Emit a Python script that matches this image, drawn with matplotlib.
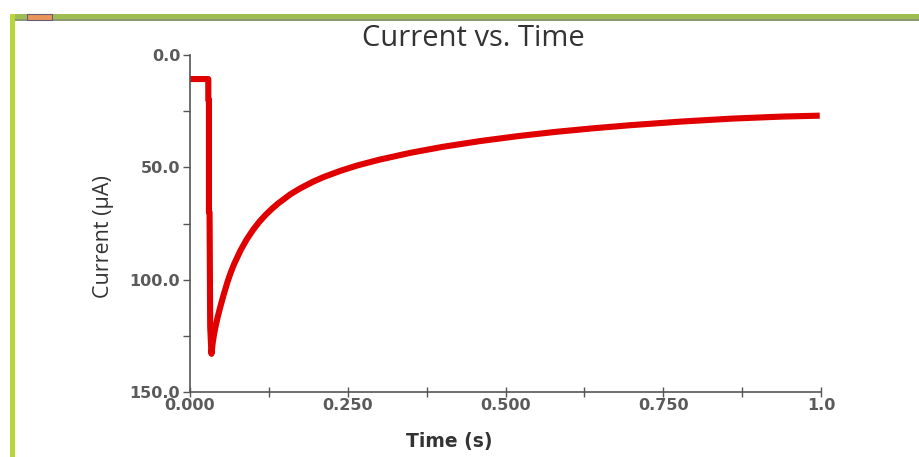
import matplotlib
matplotlib.use("Agg")
import matplotlib.pyplot as plt
import matplotlib.ticker as mticker
from matplotlib.patches import Rectangle

# 读图得到的电流-时间曲线（y 轴向下为正）
time_s = [0.0, 0.029, 0.029, 0.030, 0.030, 0.031, 0.032, 0.034,
          0.036, 0.038, 0.040, 0.044, 0.047, 0.053, 0.060, 0.065,
          0.070, 0.080, 0.090, 0.100, 0.110, 0.120, 0.130, 0.140,
          0.159, 0.175, 0.195, 0.212, 0.240, 0.266, 0.300, 0.350,
          0.400, 0.460, 0.520, 0.580, 0.640, 0.700, 0.780, 0.860,
          0.939, 0.998]
current_ua = [10.7, 10.7, 20.0, 20.0, 70.0, 70.0, 121.0, 133.0,
              128.0, 124.5, 121.5, 116.5, 113.2, 107.0, 100.5, 96.5,
              93.0, 87.0, 82.0, 77.8, 74.2, 71.1, 68.4, 66.0,
              62.0, 59.3, 56.4, 54.3, 51.4, 49.1, 46.6, 43.5,
              40.9, 38.3, 36.1, 34.2, 32.6, 31.2, 29.6, 28.3,
              27.4, 27.0]

x_ticks = [0.0, 0.25, 0.5, 0.75, 1.0]
x_tick_labels = ["0.000", "0.250", "0.500", "0.750", "1.0"]
y_ticks = [0.0, 50.0, 100.0, 150.0]
y_tick_labels = ["0.0", "50.0", "100.0", "150.0"]

W, H = 919, 457
fig = plt.figure(figsize=(W / 100, H / 100), dpi=100)
fig.patch.set_facecolor("white")

# ── 截图边框（绿色窗口框） ──
fig.patches.append(Rectangle((10 / W, 1 - 20 / H), 1, 6 / H, transform=fig.transFigure,
                             facecolor="#9dbd52", edgecolor="none", zorder=0))
fig.patches.append(Rectangle((10 / W, 1 - 21 / H), 1, 2 / H, transform=fig.transFigure,
                             facecolor="#8a9a78", edgecolor="none", zorder=0))
fig.patches.append(Rectangle((10 / W, 0), 5 / W, 1 - 14 / H, transform=fig.transFigure,
                             facecolor="#b8d63a", edgecolor="none", zorder=0))
fig.patches.append(Rectangle((27 / W, 1 - 20 / H), 25 / W, 6 / H, transform=fig.transFigure,
                             facecolor="#e8955a", edgecolor="#6a5a7a", linewidth=0.8, zorder=1))

ax = fig.add_axes([190 / W, 1 - 392 / H, 631 / W, 337 / H])
ax.plot(time_s, current_ua, color="#e00000", linewidth=4.4,
        solid_joinstyle="round", solid_capstyle="butt")

ax.set_xlim(0, 1.0)
ax.set_ylim(150, 0)

ax.set_xticks(x_ticks)
ax.set_xticklabels(x_tick_labels)
ax.set_yticks(y_ticks)
ax.set_yticklabels(y_tick_labels)
ax.xaxis.set_minor_locator(mticker.MultipleLocator(0.125))
ax.yaxis.set_minor_locator(mticker.MultipleLocator(25))

for side in ("top", "right"):
    ax.spines[side].set_visible(False)
for side in ("left", "bottom"):
    ax.spines[side].set_color("#555555")
    ax.spines[side].set_linewidth(1.2)

ax.tick_params(axis="both", which="both", colors="#555555", labelcolor="#5a5a5a",
               labelsize=11.5, width=1.0)
ax.tick_params(axis="x", which="both", direction="inout", length=7, pad=1)
ax.tick_params(axis="y", which="both", direction="out", length=5, pad=2)
for lab in ax.get_xticklabels() + ax.get_yticklabels():
    lab.set_fontweight("bold")
    lab.set_family("DejaVu Sans")

ax.set_xlabel("Time (s)", fontsize=13.5, fontweight="bold", color="#333333",
              family="DejaVu Sans")
ax.xaxis.set_label_coords((449 - 190) / 631, (392 - 432) / 337)
ax.set_ylabel("Current (μA)", fontsize=15.5, color="#333333", family="Open Sans")
ax.yaxis.set_label_coords((114 - 190) / 631, (392 - 237) / 337)

fig.text(473 / W, 1 - 38 / H, "Current vs. Time", fontsize=21, color="#333333",
         ha="center", va="center", family="Open Sans")

fig.savefig("out.png", dpi=100)
